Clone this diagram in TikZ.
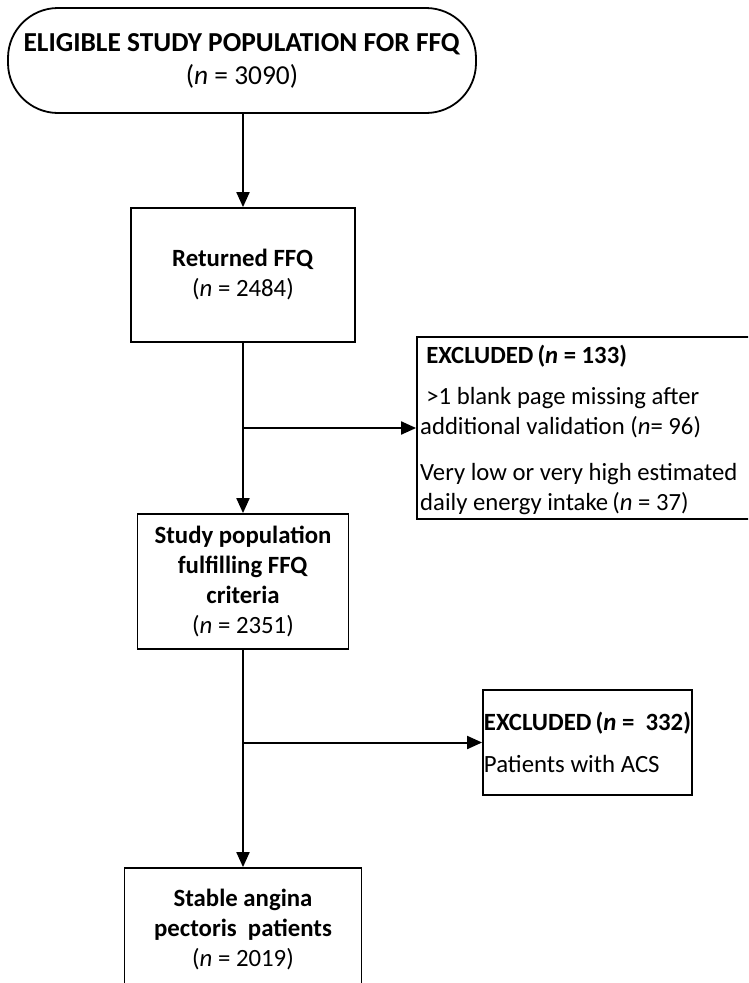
\documentclass[tikz,border=0pt]{standalone}
\usepackage{fontspec}
\setmainfont{Carlito}
\usetikzlibrary{arrows.meta}
\begin{document}
\begin{tikzpicture}[x=1pt,y=-1pt,
  box/.style={draw, line width=1.8pt, inner sep=0pt, align=center, font=\fontsize{24.8}{30}\selectfont},
  txt/.style={inner sep=0pt, align=flush left, font=\fontsize{24.7}{30}\selectfont},
  arr/.style={line width=2pt, -{Triangle[length=15pt,width=13pt]}},
]
\useasboundingbox (0,0) rectangle (748,983);
\clip (0,0) rectangle (748,983);
\fill[white] (0,0) rectangle (748,983);

\node[box, rounded corners=50pt, minimum width=468pt, minimum height=105pt,
      font=\fontsize{27.4}{33}\selectfont] (top) at (242,60.5)
  {\textbf{ELIGIBLE STUDY POPULATION FOR FFQ}\\(\textit{n} = 3090)};

\node[box, minimum width=224pt, minimum height=134pt] (b2) at (243,275)
  {\textbf{Returned FFQ}\\(\textit{n} = 2484)};

\node[box, minimum width=211pt, minimum height=135pt] (b3) at (243,581.5)
  {\textbf{Study population}\\\textbf{fulfilling FFQ}\\\textbf{criteria}\\(\textit{n} = 2351)};

\node[box, minimum width=237pt, minimum height=124pt] (b4) at (243,930)
  {\textbf{Stable angina}\\\textbf{pectoris\ \ patients}\\(\textit{n} = 2019)};

\node[draw, line width=1.8pt, inner sep=0pt, minimum width=345pt, minimum height=182pt] (e1) at (589.5,428) {};
\node[txt, anchor=north west, text width=326pt] (e1t) at (420,345)
  {\hspace*{0.25em}\textbf{EXCLUDED\,(\textit{n} = 133)}\\[11pt]
   \hspace*{0.25em}>1 blank page missing after\\
   additional validation (\textit{n}= 96)\\[16pt]
   Very low or very high estimated\\
   daily energy intake\,(\textit{n} = 37)};

\node[box, align=left, minimum width=209pt, minimum height=105pt] (e2) at (587.5,742.5)
  {\textbf{EXCLUDED\,(\textit{n} =\ \ 332)}\\[12pt]Patients with ACS};

\draw[arr] (top.south -| b2.north) -- (b2.north);
\draw[arr] (b2.south) -- (b3.north);
\draw[arr] (b2.south |- e1.west) -- (e1.west);
\draw[arr] (b3.south) -- (b4.north);
\draw[arr] (b3.south |- e2.west) -- (e2.west);
\end{tikzpicture}
\end{document}
